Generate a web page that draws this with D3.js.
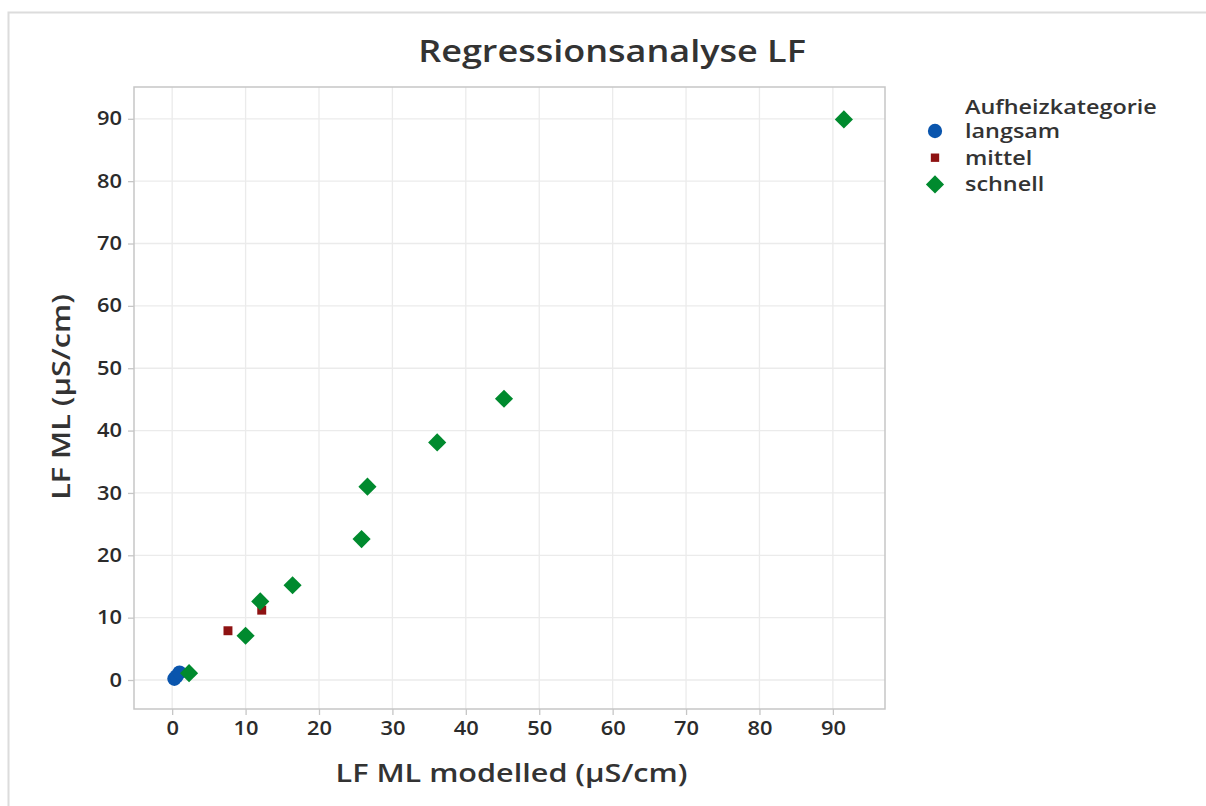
<!DOCTYPE html>
<html>
<head>
<meta charset="utf-8">
<script src="https://cdn.jsdelivr.net/npm/d3@7"></script>
<style>
  body { margin: 0; background: #fff; }
  svg { display: block; font-family: "Open Sans", sans-serif; }
</style>
</head>
<body>
<div id="chart"></div>
<script>
// data
var categories = ["langsam", "mittel", "schnell"];
var langsamX = [0.3, 0.6, 1.0];
var langsamY = [0.2, 0.6, 1.2];
var mittelX = [7.6, 12.2];
var mittelY = [7.9, 11.2];
var schnellX = [2.3, 10.0, 12.0, 16.4, 25.8, 26.6, 36.1, 45.2, 91.5];
var schnellY = [1.1, 7.1, 12.6, 15.2, 22.6, 31.0, 38.1, 45.1, 89.9];
var xTicks = [0, 10, 20, 30, 40, 50, 60, 70, 80, 90];
var yTicks = [0, 10, 20, 30, 40, 50, 60, 70, 80, 90];

var colors = { langsam: "#0a55ad", mittel: "#8e1212", schnell: "#008a2e" };
var symbols = { langsam: d3.symbolCircle, mittel: d3.symbolSquare, schnell: d3.symbolSquare };
var sizes = { langsam: 160, mittel: 80, schnell: 165 };
var rotate = { langsam: 0, mittel: 0, schnell: 45 };

var width = 1206, height = 806;
var plot = { left: 134, top: 87, right: 885, bottom: 709 };
var stretch = 1.2; // text in the reference is a bit wider than Open Sans

var svg = d3.select("#chart").append("svg")
  .attr("width", width)
  .attr("height", height);

// outer frame
svg.append("rect")
  .attr("x", 8.5).attr("y", 12.5)
  .attr("width", width).attr("height", height)
  .style("fill", "none")
  .style("stroke", "#dcdcdc")
  .style("stroke-width", 2);

var x = d3.scaleLinear().domain([-5.2, 97.1]).range([plot.left, plot.right]);
var y = d3.scaleLinear().domain([-4.65, 95.1]).range([plot.bottom, plot.top]);

// grid
var grid = svg.append("g");
grid.selectAll(".gx").data(xTicks).enter().append("line")
  .attr("x1", function(d) { return x(d); }).attr("x2", function(d) { return x(d); })
  .attr("y1", plot.top).attr("y2", plot.bottom)
  .style("stroke", "#ebebeb").style("stroke-width", 1.3);
grid.selectAll(".gy").data(yTicks).enter().append("line")
  .attr("y1", function(d) { return y(d); }).attr("y2", function(d) { return y(d); })
  .attr("x1", plot.left).attr("x2", plot.right)
  .style("stroke", "#ebebeb").style("stroke-width", 1.3);

// plot border
svg.append("rect")
  .attr("x", plot.left).attr("y", plot.top)
  .attr("width", plot.right - plot.left).attr("height", plot.bottom - plot.top)
  .style("fill", "none").style("stroke", "#c6c6c6").style("stroke-width", 1.5);

// axes
var xAxis = svg.append("g")
  .attr("transform", "translate(0," + plot.bottom + ")")
  .call(d3.axisBottom(x).tickValues(xTicks).tickSizeInner(6).tickSizeOuter(0).tickPadding(7));
var yAxis = svg.append("g")
  .attr("transform", "translate(" + plot.left + ",0)")
  .call(d3.axisLeft(y).tickValues(yTicks).tickSizeInner(6).tickSizeOuter(0).tickPadding(6));

[xAxis, yAxis].forEach(function(a) {
  a.select(".domain").remove();
  a.selectAll(".tick line").style("stroke", "#c6c6c6").style("stroke-width", 1.3);
  a.selectAll(".tick text")
    .style("font-family", "'Open Sans', sans-serif")
    .style("font-size", "19px")
    .style("font-weight", 600)
    .style("fill", "#2b2b2b");
});
xAxis.selectAll(".tick text").attr("transform", "scale(1.15,1)");
yAxis.selectAll(".tick text").attr("x", -12 / 1.15).attr("transform", "scale(1.15,1)");

function label(tx, ty, rot, size, weight, txt, anchor) {
  return svg.append("text")
    .attr("transform", "translate(" + tx + "," + ty + ")" + (rot ? " rotate(" + rot + ")" : "") + " scale(" + stretch + ",1)")
    .attr("text-anchor", anchor || "middle")
    .style("font-size", size + "px").style("font-weight", weight)
    .style("fill", "#333")
    .text(txt);
}

// title and axis titles
label(612, 62, 0, 30, 600, "Regressionsanalyse LF");
label((plot.left + plot.right) / 2 + 2, 782, 0, 25.5, 600, "LF ML modelled (µS/cm)");
label(70, 397, -90, 25.5, 600, "LF ML (µS/cm)");

// points
var series = [
  { name: "langsam", xs: langsamX, ys: langsamY },
  { name: "mittel", xs: mittelX, ys: mittelY },
  { name: "schnell", xs: schnellX, ys: schnellY }
];

series.forEach(function(s) {
  var pts = s.xs.map(function(v, i) { return [v, s.ys[i]]; });
  svg.append("g").selectAll("path").data(pts).enter().append("path")
    .attr("transform", function(d) {
      return "translate(" + x(d[0]) + "," + y(d[1]) + ") rotate(" + rotate[s.name] + ")";
    })
    .attr("d", d3.symbol().type(symbols[s.name]).size(sizes[s.name]))
    .style("fill", colors[s.name]);
});

// legend
var legend = svg.append("g").attr("transform", "translate(935,0)");
legend.append("text")
  .attr("transform", "translate(30,114) scale(" + stretch + ",1)")
  .style("font-size", "19.5px").style("font-weight", 600).style("fill", "#333")
  .text("Aufheizkategorie");
var item = legend.selectAll(".item").data(categories).enter().append("g")
  .attr("transform", function(d, i) { return "translate(0," + (131 + i * 26.7) + ")"; });
item.append("path")
  .attr("transform", function(d) { return "rotate(" + rotate[d] + ")"; })
  .attr("d", function(d) { return d3.symbol().type(symbols[d]).size(d === "mittel" ? 70 : sizes[d])(); })
  .style("fill", function(d) { return colors[d]; });
item.append("text")
  .attr("transform", "translate(30,7) scale(" + stretch + ",1)")
  .style("font-size", "19.5px").style("font-weight", 600).style("fill", "#333")
  .text(function(d) { return d; });
</script>
</body>
</html>
